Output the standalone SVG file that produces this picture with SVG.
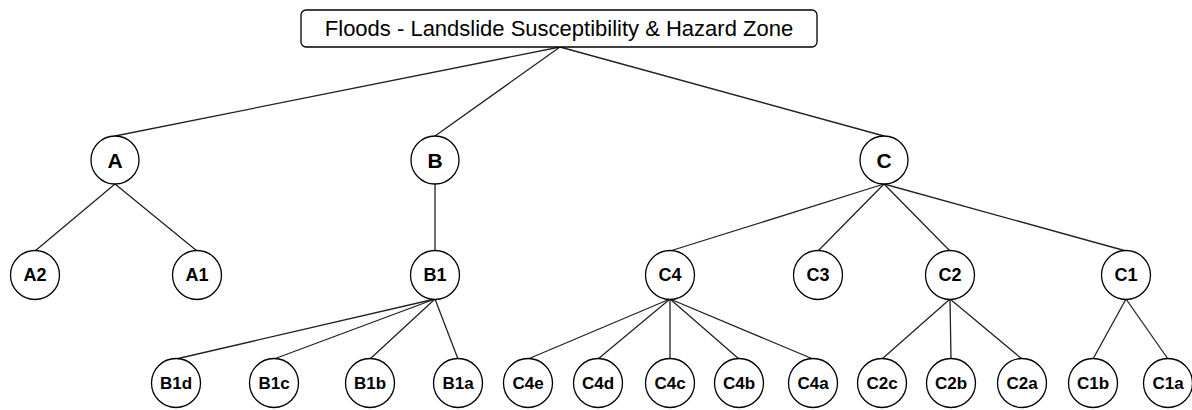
<svg xmlns="http://www.w3.org/2000/svg" width="1192" height="410" viewBox="0 0 1192 410">
<style>
.n circle{fill:#fff;stroke:#000;stroke-width:1.3}
.n text{font-family:"Liberation Sans",Arial,sans-serif;font-weight:bold;text-anchor:middle;fill:#000}
.l1 text{font-size:21px}
.l2 text{font-size:18px}
.l3 text{font-size:17px}
#edges line{stroke:#222;stroke-width:1.3}
.title rect{fill:#fff;stroke:#000;stroke-width:1.3}
.title text{font-family:"Liberation Sans",Arial,sans-serif;font-size:22px;text-anchor:middle;fill:#000}
</style>
<rect width="1192" height="410" fill="#fff"/>
<g id="edges">
<line x1="560" y1="47" x2="115" y2="136"/>
<line x1="560" y1="47" x2="435" y2="136"/>
<line x1="560" y1="47" x2="884" y2="136"/>
<line x1="115" y1="184" x2="35" y2="251"/>
<line x1="115" y1="184" x2="197" y2="251"/>
<line x1="435" y1="184" x2="435" y2="251"/>
<line x1="884" y1="184" x2="670" y2="251"/>
<line x1="884" y1="184" x2="818" y2="251"/>
<line x1="884" y1="184" x2="950" y2="251"/>
<line x1="884" y1="184" x2="1126" y2="251"/>
<line x1="435" y1="299" x2="176" y2="359"/>
<line x1="435" y1="299" x2="274" y2="359"/>
<line x1="435" y1="299" x2="370" y2="359"/>
<line x1="435" y1="299" x2="458" y2="359"/>
<line x1="670" y1="299" x2="528" y2="359"/>
<line x1="670" y1="299" x2="598" y2="359"/>
<line x1="670" y1="299" x2="670" y2="359"/>
<line x1="670" y1="299" x2="739" y2="359"/>
<line x1="670" y1="299" x2="813" y2="359"/>
<line x1="950" y1="299" x2="882" y2="359"/>
<line x1="950" y1="299" x2="951" y2="359"/>
<line x1="950" y1="299" x2="1022" y2="359"/>
<line x1="1126" y1="299" x2="1093" y2="359"/>
<line x1="1126" y1="299" x2="1168" y2="359"/>
</g>
<g id="root" class="title"><rect x="301" y="10" width="516" height="37" rx="5"/><text x="559" y="36">Floods - Landslide Susceptibility &amp; Hazard Zone</text></g>
<g id="A" class="n l1"><circle cx="115" cy="160" r="24"/><text x="115" y="167.5">A</text></g>
<g id="B" class="n l1"><circle cx="435" cy="160" r="24"/><text x="435" y="167.5">B</text></g>
<g id="C" class="n l1"><circle cx="884" cy="160" r="24"/><text x="884" y="167.5">C</text></g>
<g id="A2" class="n l2"><circle cx="35" cy="275" r="24.5"/><text x="35" y="281">A2</text></g>
<g id="A1" class="n l2"><circle cx="197" cy="275" r="24.5"/><text x="197" y="281">A1</text></g>
<g id="B1" class="n l2"><circle cx="435" cy="275" r="24.5"/><text x="435" y="281">B1</text></g>
<g id="C4" class="n l2"><circle cx="670" cy="275" r="24.5"/><text x="670" y="281">C4</text></g>
<g id="C3" class="n l2"><circle cx="818" cy="275" r="24.5"/><text x="818" y="281">C3</text></g>
<g id="C2" class="n l2"><circle cx="950" cy="275" r="24.5"/><text x="950" y="281">C2</text></g>
<g id="C1" class="n l2"><circle cx="1126" cy="275" r="24.5"/><text x="1126" y="281">C1</text></g>
<g id="B1d" class="n l3"><circle cx="176" cy="383" r="24.5"/><text x="176" y="389">B1d</text></g>
<g id="B1c" class="n l3"><circle cx="274" cy="383" r="24.5"/><text x="274" y="389">B1c</text></g>
<g id="B1b" class="n l3"><circle cx="370" cy="383" r="24.5"/><text x="370" y="389">B1b</text></g>
<g id="B1a" class="n l3"><circle cx="458" cy="383" r="24.5"/><text x="458" y="389">B1a</text></g>
<g id="C4e" class="n l3"><circle cx="528" cy="383" r="24.5"/><text x="528" y="389">C4e</text></g>
<g id="C4d" class="n l3"><circle cx="598" cy="383" r="24.5"/><text x="598" y="389">C4d</text></g>
<g id="C4c" class="n l3"><circle cx="670" cy="383" r="24.5"/><text x="670" y="389">C4c</text></g>
<g id="C4b" class="n l3"><circle cx="739" cy="383" r="24.5"/><text x="739" y="389">C4b</text></g>
<g id="C4a" class="n l3"><circle cx="813" cy="383" r="24.5"/><text x="813" y="389">C4a</text></g>
<g id="C2c" class="n l3"><circle cx="882" cy="383" r="24.5"/><text x="882" y="389">C2c</text></g>
<g id="C2b" class="n l3"><circle cx="951" cy="383" r="24.5"/><text x="951" y="389">C2b</text></g>
<g id="C2a" class="n l3"><circle cx="1022" cy="383" r="24.5"/><text x="1022" y="389">C2a</text></g>
<g id="C1b" class="n l3"><circle cx="1093" cy="383" r="24.5"/><text x="1093" y="389">C1b</text></g>
<g id="C1a" class="n l3"><circle cx="1168" cy="383" r="24.5"/><text x="1168" y="389">C1a</text></g>
</svg>
